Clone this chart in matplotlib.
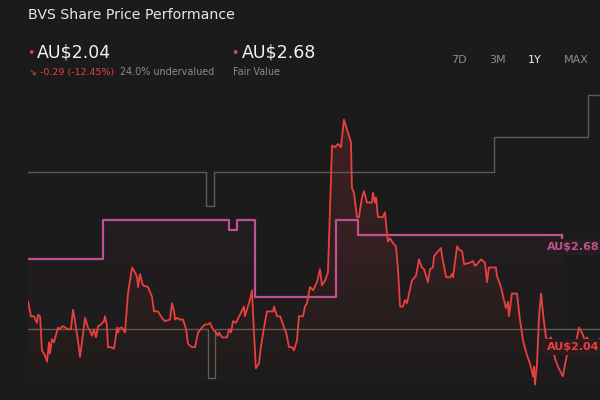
import numpy as np
import matplotlib
matplotlib.use("Agg")
import matplotlib.pyplot as plt
from matplotlib.patches import Polygon

# share price (days since start, AU$)
price_days = [0.0, 1.9, 3.8, 5.7, 6.4, 7.7, 8.9, 10.8, 12.1, 13.4, 14.0, 15.3, 16.6, 19.1, 19.8,
              22.3, 25.5, 27.4, 28.7, 30.0, 31.9, 33.2, 35.1, 36.4, 38.3, 39.6, 40.8, 42.1, 43.4,
              44.7, 46.6, 48.5, 49.1, 50.4, 51.0, 53.0, 54.9, 56.8, 57.4, 58.7, 60.0, 61.9, 63.8,
              66.4, 68.3, 69.6, 70.2, 71.5, 72.7, 73.4, 76.6, 79.1, 80.4, 82.9, 85.5, 87.4, 90.6,
              91.9, 93.2, 93.8, 95.1, 97.0, 98.9, 100.9, 102.1, 104.6, 106.6, 108.5, 111.0, 112.9,
              114.9, 116.1, 118.0, 120.0, 121.2, 121.9, 123.8, 127.0, 128.3, 129.5, 130.8, 132.7,
              135.3, 137.8, 138.4, 141.6, 142.9, 144.2, 145.4, 147.4, 148.6, 150.6, 152.5, 156.4,
              157.0, 158.9, 160.9, 163.4, 164.7, 166.6, 168.5, 169.7, 171.6, 172.9, 175.5, 176.7,
              178.0, 179.9, 181.9, 184.4, 186.3, 187.6, 189.5, 191.4, 194.0, 195.9, 197.8, 199.7,
              201.6, 204.2, 206.1, 206.7, 208.0, 209.9, 211.2, 213.1, 214.4, 216.3, 219.5, 220.1,
              221.4, 222.1, 223.3, 226.5, 227.8, 229.1, 229.7, 231.0, 232.9, 234.8, 236.1, 237.4,
              239.3, 240.6, 241.8, 245.0, 247.6, 249.5, 251.4, 252.7, 255.2, 256.5, 258.4, 259.1,
              261.6, 263.6, 264.2, 266.8, 269.3, 270.6, 271.2, 273.8, 275.1, 277.0, 278.3, 282.1,
              284.0, 285.2, 286.5, 289.0, 291.6, 292.9, 294.1, 298.6, 299.2, 301.8, 303.7, 305.0,
              306.3, 306.9, 308.8, 312.0, 313.9, 315.9, 318.4, 320.3, 321.6, 322.2, 322.9, 323.5,
              324.8, 326.1, 327.4, 328.6, 330.5, 331.8, 333.7, 336.3, 338.2, 341.3, 342.6, 344.5,
              349.0, 351.6, 353.5, 355.4, 356.7, 359.3, 361.8, 365.0]
price = [2.27, 2.18, 2.18, 2.14, 2.19, 2.18, 1.97, 1.94, 1.90, 2.02, 1.95, 2.04, 2.02, 2.11, 2.10,
         2.12, 2.10, 2.10, 2.22, 2.15, 2.03, 1.93, 2.07, 2.17, 2.11, 2.09, 2.06, 2.10, 2.05,
         2.12, 2.13, 2.15, 2.18, 2.12, 1.99, 1.99, 1.98, 2.11, 2.08, 2.11, 2.11, 2.08, 2.32,
         2.48, 2.45, 2.42, 2.36, 2.44, 2.39, 2.37, 2.36, 2.30, 2.21, 2.21, 2.17, 2.15, 2.16,
         2.26, 2.21, 2.16, 2.17, 2.16, 2.16, 2.10, 2.01, 1.99, 1.99, 2.08, 2.11, 2.13,
         2.13, 2.14, 2.10, 2.08, 2.06, 2.08, 2.05, 2.05, 2.10, 2.08, 2.15, 2.14,
         2.19, 2.24, 2.18, 2.28, 2.34, 2.08, 1.86, 1.89, 1.99, 2.11, 2.21, 2.21,
         2.24, 2.18, 2.18, 2.11, 2.08, 1.99, 1.99, 1.97, 2.03, 2.18, 2.18, 2.24,
         2.26, 2.36, 2.34, 2.39, 2.47, 2.37, 2.40, 2.45, 3.23, 3.22, 3.24, 3.22,
         3.39, 3.31, 3.25, 2.97, 2.94, 2.79, 2.79, 2.91, 2.95, 2.88, 2.88, 2.94,
         2.88, 2.91, 2.79, 2.79, 2.82, 2.68, 2.64, 2.66, 2.63, 2.61, 2.47, 2.24,
         2.24, 2.28, 2.26, 2.40, 2.43, 2.53, 2.48, 2.47, 2.39, 2.47, 2.48, 2.55,
         2.58, 2.60, 2.55, 2.42, 2.42, 2.44, 2.42, 2.61, 2.59, 2.58, 2.50, 2.51,
         2.52, 2.49, 2.50, 2.53, 2.51, 2.39, 2.48, 2.48, 2.43, 2.36, 2.28, 2.23,
         2.27, 2.18, 2.32, 2.32, 2.16, 2.03, 1.94, 1.89, 1.84, 1.81, 1.87, 1.76,
         1.89, 2.18, 2.32, 2.20, 2.05, 2.03, 2.05, 1.92, 1.87, 1.81, 1.88, 1.97,
         1.99, 2.11, 2.08, 2.03, 2.05, 2.00, 2.03, 2.04]

# fair value steps
fv_days = [0.0, 47.9, 128.3, 133.4, 144.8, 196.5, 210.6, 340.7]
fv_vals = [2.53, 2.77, 2.71, 2.77, 2.30, 2.77, 2.68, 2.68]

# upper / lower grey bands (steps)
upper_days = [0.0, 113.6, 118.7, 297.3, 357.3, 365.0]
upper_vals = [3.07, 2.86, 3.07, 3.28, 3.54, 3.54]
lower_days = [0.0, 114.9, 119.3, 365.0]
lower_vals = [2.10, 1.80, 2.10, 2.10]

periods = ["7D", "3M", "1Y", "MAX"]

BG = "#1b1b1b"
RED = "#e8403f"
PINK = "#c2508e"
GREY = "#5f5d52"

fig = plt.figure(figsize=(6, 4), dpi=100, facecolor=BG)
ax = fig.add_axes([28 / 600, 0, 572 / 600, 310 / 400])
ax.set_facecolor(BG)
ymin, ymax = 1.665, 3.572
ax.set_xlim(0, 365)
ax.set_ylim(ymin, ymax)
ax.axis("off")

# gradient fills (fade from top of plot to bottom)
grad = np.linspace(1, 0, 256).reshape(-1, 1)
def grad_fill(xs, ys, color, amax):
    verts = [(xs[0], ymin)] + list(zip(xs, ys)) + [(xs[-1], ymin)]
    poly = Polygon(verts, closed=True, facecolor="none", edgecolor="none")
    ax.add_patch(poly)
    rgba = np.zeros((256, 1, 4))
    rgba[..., :3] = matplotlib.colors.to_rgb(color)
    rgba[..., 3] = grad * amax
    im = ax.imshow(rgba, extent=[0, 365, ymin, ymax], aspect="auto", origin="upper", zorder=1)
    im.set_clip_path(poly)

fx = []
fy = []
for i in range(len(fv_days) - 1):
    fx += [fv_days[i], fv_days[i + 1]]
    fy += [fv_vals[i], fv_vals[i]]
grad_fill(fx, fy, PINK, 0.08)
grad_fill(price_days, price, RED, 0.2)

ax.step(upper_days, upper_vals, where="post", color=GREY, lw=1.0, zorder=2)
ax.step(lower_days, lower_vals, where="post", color=GREY, lw=1.0, zorder=2)
ax.step(fv_days, fv_vals, where="post", color=PINK, lw=1.6, zorder=3)
ax.plot([fv_days[-1], fv_days[-1]], [fv_vals[-1], fv_vals[-1] - 0.03], color=PINK, lw=1.6, zorder=3)
ax.plot(price_days, price, color=RED, lw=1.3, zorder=4)

# end labels
lab = dict(fontsize=8, fontweight="bold", ha="left", va="center", zorder=6, clip_on=False)
ax.text(331, fv_vals[-1] - 0.075, "AU$%.2f" % fv_vals[-1], color=PINK,
        bbox=dict(boxstyle="square,pad=0.25", fc="#241e21", ec="none"), **lab)
ax.text(331, price[-1] - 0.05, "AU$%.2f" % price[-1], color=RED,
        bbox=dict(boxstyle="square,pad=0.25", fc="#2a1c1c", ec="none"), **lab)

# header
fig.text(28 / 600, 1 - 15 / 400, "BVS Share Price Performance", color="#e6e6e6",
         fontsize=10.2, va="center", ha="left")
fig.text(31 / 600, 1 - 53 / 400, "•", color=RED, fontsize=9, va="center", ha="center")
fig.text(37 / 600, 1 - 53 / 400, "AU$%.2f" % price[-1], color="#f2f2f2", fontsize=12.5,
         va="center", ha="left")
fig.text(29 / 600, 1 - 72 / 400, "↘ -0.29 (-12.45%)", color=RED, fontsize=6.8,
         va="center", ha="left")
fig.text(120 / 600, 1 - 72 / 400, "24.0% undervalued", color="#8c8c8c", fontsize=6.9,
         va="center", ha="left")
fig.text(235 / 600, 1 - 53 / 400, "•", color=PINK, fontsize=9, va="center", ha="center")
fig.text(242 / 600, 1 - 53 / 400, "AU$%.2f" % fv_vals[-1], color="#f2f2f2", fontsize=12.5,
         va="center", ha="left")
fig.text(233 / 600, 1 - 72 / 400, "Fair Value", color="#8c8c8c", fontsize=6.9,
         va="center", ha="left")

for lbl, xp in zip(periods, [459, 497, 535, 576]):
    fig.text(xp / 600, 1 - 60 / 400, lbl, color="#f2f2f2" if lbl == "1Y" else "#8c8c8c",
             fontsize=8, va="center", ha="center")

fig.savefig("out.png", dpi=100, facecolor=BG)
